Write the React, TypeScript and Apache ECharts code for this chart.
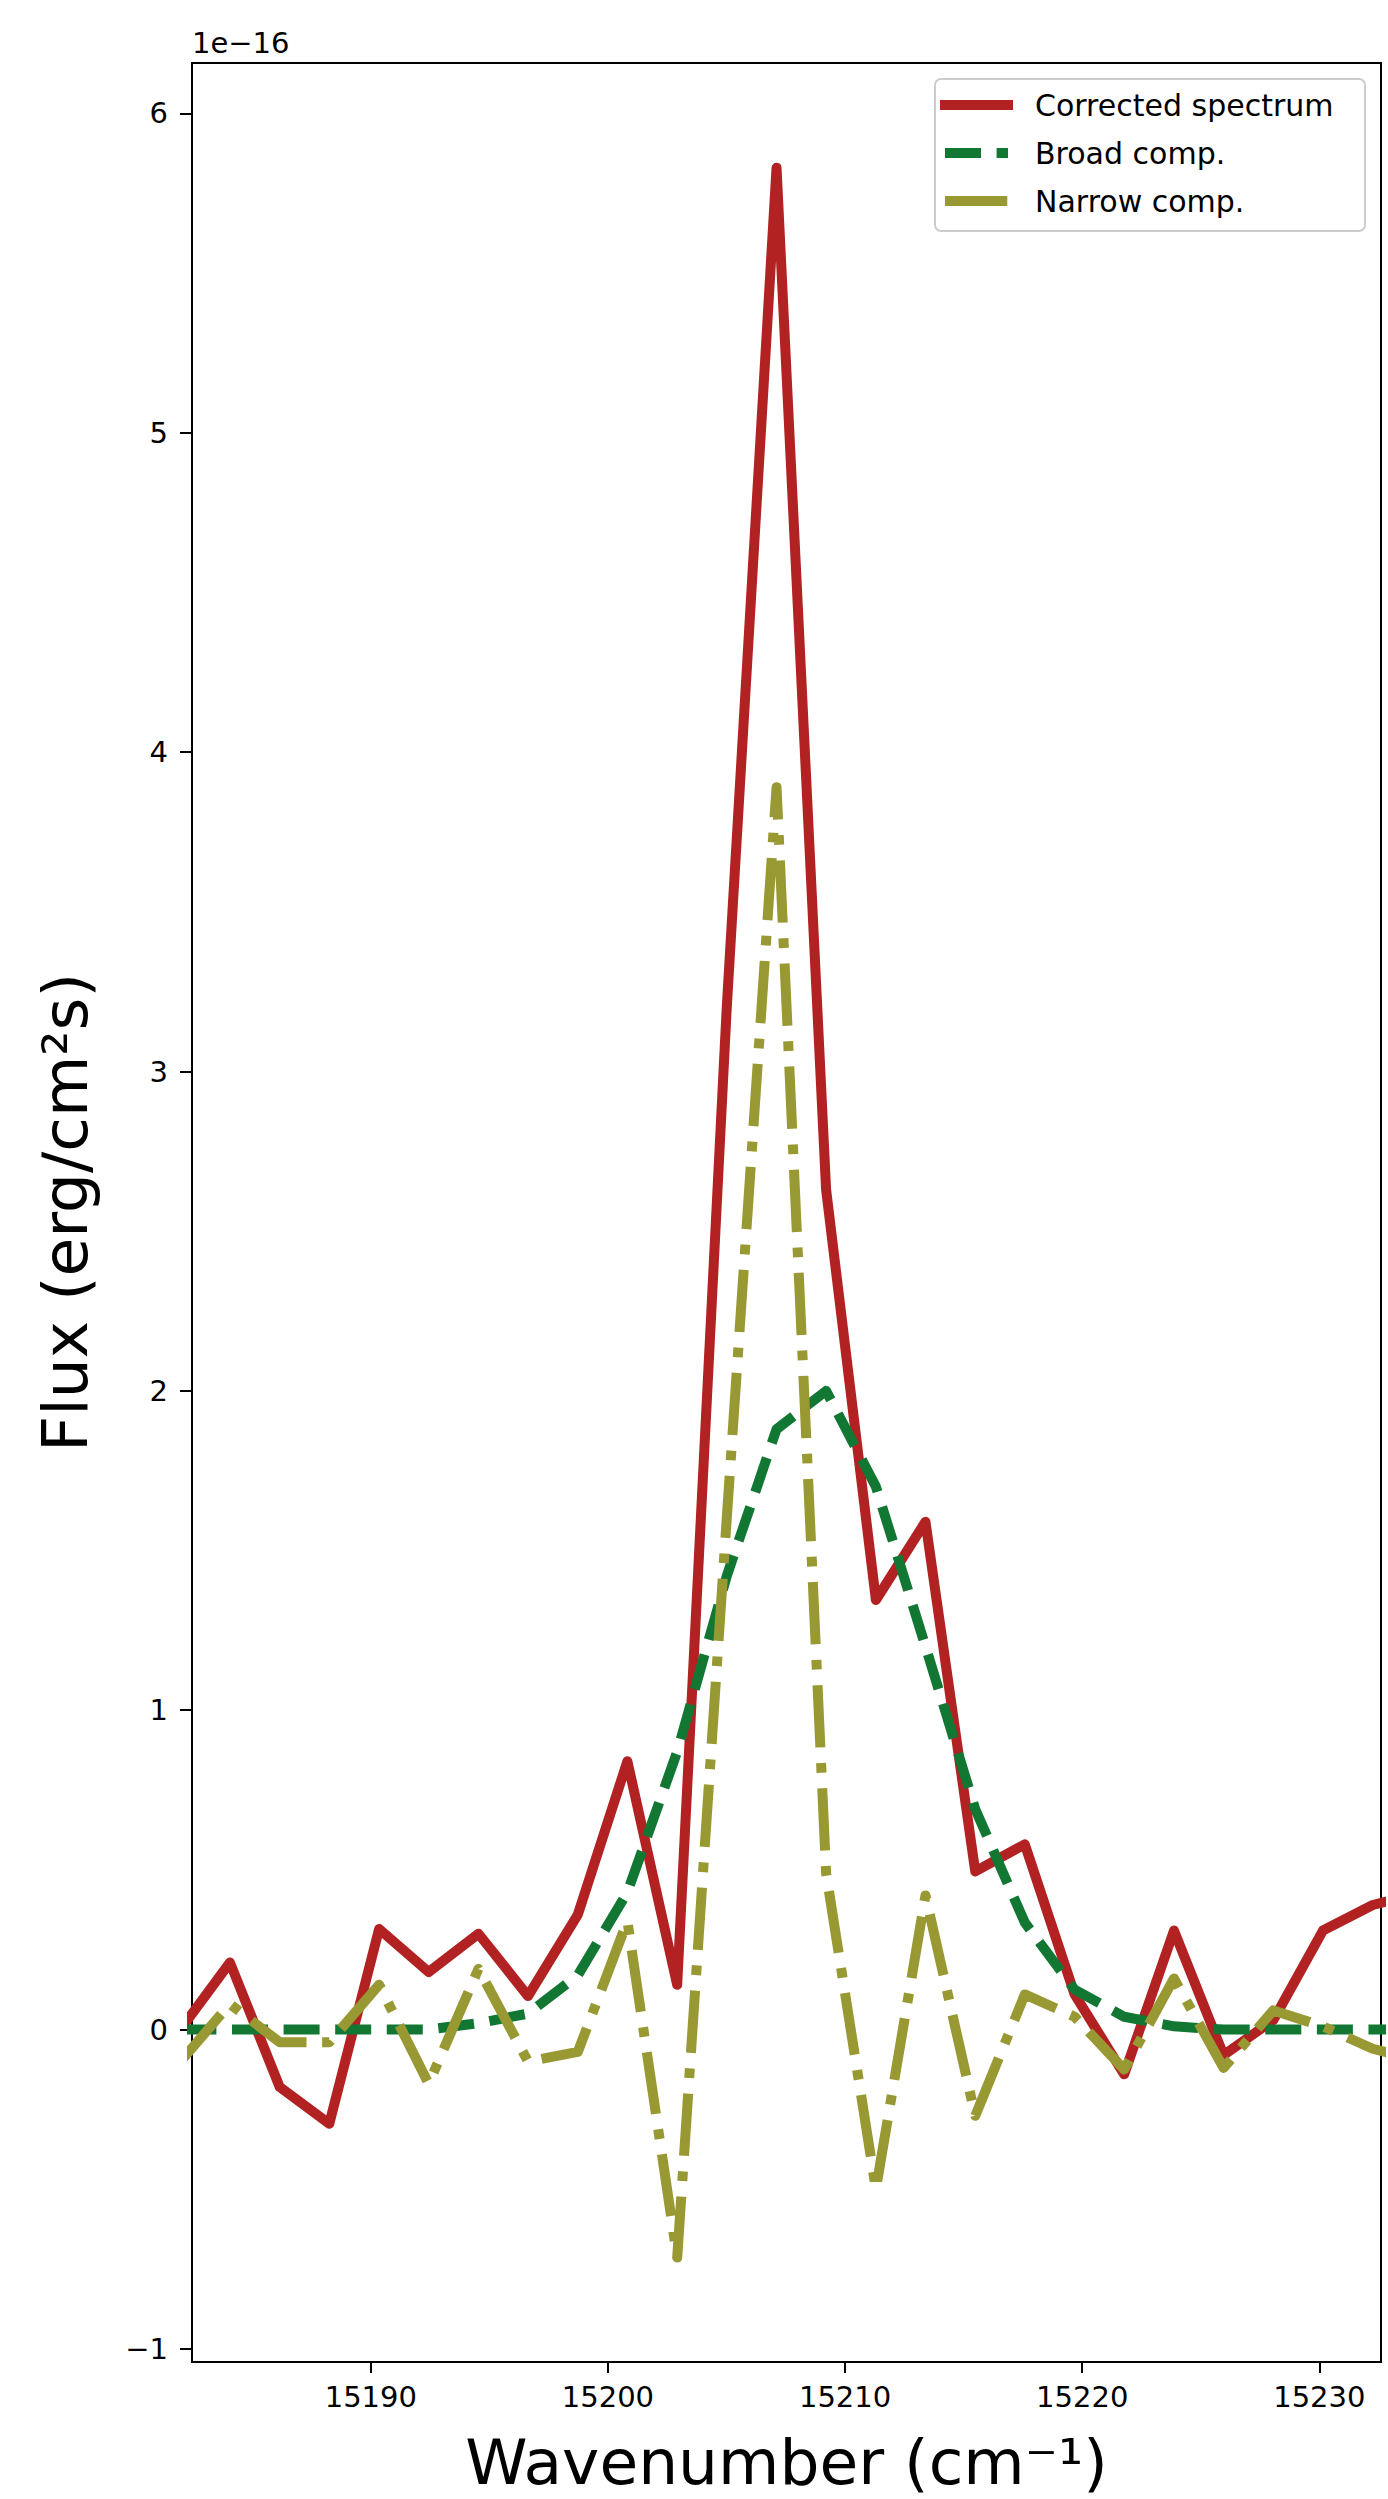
import React, { useEffect, useRef } from "react";
import * as echarts from "echarts";

// Wavenumber grid (cm^-1)
const wavenumber = [
  15181.97, 15184.06, 15186.16, 15188.25, 15190.35, 15192.44, 15194.54, 15196.63,
  15198.73, 15200.82, 15202.92, 15205.01, 15207.11, 15209.2, 15211.3, 15213.39,
  15215.49, 15217.58, 15219.68, 15221.77, 15223.87, 15225.96, 15228.06, 15230.15,
  15232.25, 15234.34,
];

// Flux in units of 1e-16 erg/cm^2 s
const corrected = [
  0.0, 0.21, -0.18, -0.295, 0.315, 0.18, 0.3, 0.105, 0.36, 0.84, 0.14, 3.2,
  5.83, 2.63, 1.345, 1.59, 0.495, 0.58, 0.11, -0.14, 0.31, -0.08, 0.03, 0.31,
  0.39, 0.43,
];

const broad = [
  0, 0, 0, 0, 0, 0, 0.02, 0.05, 0.17, 0.43, 0.87, 1.42, 1.88, 2.0, 1.7, 1.2,
  0.69, 0.335, 0.125, 0.04, 0.01, 0, 0, 0, 0, 0,
];

const narrow = [
  -0.1, 0.08, -0.04, -0.04, 0.14, -0.17, 0.19, -0.1, -0.07, 0.34, -0.714, 1.6,
  3.89, 0.49, -0.5, 0.42, -0.27, 0.11, 0.04, -0.125, 0.16, -0.12, 0.06, 0.01,
  -0.06, -0.1,
];

const xTicks = [15190, 15200, 15210, 15220, 15230];
const yTicks = [-1, 0, 1, 2, 3, 4, 5, 6];

const seriesNames = ["Corrected spectrum", "Broad comp.", "Narrow comp."];
const seriesColors = ["#B22222", "#117733", "#999933"];

const FONT = "DejaVu Sans";

export default function App() {
  const ref = useRef<HTMLDivElement>(null);

  useEffect(() => {
    if (!ref.current) return;
    const chart = echarts.init(ref.current, undefined, { renderer: "svg" });

    const dashed = [36, 15.6];
    const dashDot = [62.3, 15.6, 9.7, 15.6];
    const lineW = 10;

    const mk = (vals: number[]) => wavenumber.map((x, i) => [x, vals[i]]);

    const legendX = 945;
    const legendX2 = 1008;
    const rows = [105, 153, 201];

    const option: any = {
      animation: false,
      backgroundColor: "#ffffff",
      textStyle: { fontFamily: FONT },
      grid: {
        left: 192,
        right: 7,
        top: 63,
        bottom: 135,
        show: true,
        borderColor: "#000",
        borderWidth: 2,
        backgroundColor: "transparent",
      },
      xAxis: {
        type: "value",
        min: 15182.46,
        max: 15232.6,
        name: "Wavenumber (cm⁻¹)",
        nameLocation: "middle",
        nameGap: 69,
        nameTextStyle: { fontSize: 63, color: "#000", fontFamily: FONT },
        axisLine: { show: true, onZero: false, lineStyle: { color: "#000", width: 2 } },
        axisTick: {
          show: true,
          length: 11,
          customValues: xTicks,
          lineStyle: { color: "#000", width: 2 },
        },
        axisLabel: {
          customValues: xTicks,
          fontSize: 29,
          color: "#000",
          margin: 20,
          fontFamily: FONT,
          formatter: (v: number) => String(v),
        },
        splitLine: { show: false },
      },
      yAxis: {
        type: "value",
        min: -1.041,
        max: 6.158,
        name: "Flux (erg/cm²s)",
        nameLocation: "middle",
        nameGap: 95,
        nameTextStyle: { fontSize: 63, color: "#000", fontFamily: FONT },
        axisLine: { show: true, onZero: false, lineStyle: { color: "#000", width: 2 } },
        axisTick: {
          show: true,
          length: 12,
          customValues: yTicks,
          lineStyle: { color: "#000", width: 2 },
        },
        axisLabel: {
          customValues: yTicks,
          fontSize: 29,
          color: "#000",
          margin: 24,
          fontFamily: FONT,
          formatter: (v: number) => (v < 0 ? "−" + Math.abs(v) : String(v)),
        },
        splitLine: { show: false },
      },
      series: [
        {
          name: seriesNames[0],
          type: "line",
          data: mk(corrected),
          symbol: "none",
          clip: true,
          z: 2,
          lineStyle: { color: seriesColors[0], width: lineW, cap: "square", join: "round" },
        },
        {
          name: seriesNames[1],
          type: "line",
          data: mk(broad),
          symbol: "none",
          clip: true,
          z: 3,
          lineStyle: { color: seriesColors[1], width: lineW, type: dashed, cap: "butt", join: "round" },
        },
        {
          name: seriesNames[2],
          type: "line",
          data: mk(narrow),
          symbol: "none",
          clip: true,
          z: 4,
          lineStyle: { color: seriesColors[2], width: lineW, type: dashDot, cap: "butt", join: "round" },
        },
      ],
      graphic: [
        {
          type: "text",
          x: 192,
          y: 43,
          style: {
            text: "1e−16",
            fontSize: 29,
            fontFamily: FONT,
            fill: "#000",
            textAlign: "left",
            textVerticalAlign: "middle",
          },
        },
        {
          type: "rect",
          z: 100,
          shape: { x: 935, y: 79, width: 430, height: 152, r: 6 },
          style: { fill: "rgba(255,255,255,0.8)", stroke: "#cccccc", lineWidth: 2 },
        },
        {
          type: "line",
          z: 101,
          shape: { x1: legendX, y1: rows[0], x2: legendX2, y2: rows[0] },
          style: { stroke: seriesColors[0], lineWidth: lineW, lineCap: "square" },
        },
        {
          type: "line",
          z: 101,
          shape: { x1: legendX, y1: rows[1], x2: legendX2, y2: rows[1] },
          style: { stroke: seriesColors[1], lineWidth: lineW, lineCap: "butt", lineDash: dashed },
        },
        {
          type: "line",
          z: 101,
          shape: { x1: legendX, y1: rows[2], x2: legendX2, y2: rows[2] },
          style: { stroke: seriesColors[2], lineWidth: lineW, lineCap: "butt", lineDash: dashDot },
        },
        ...seriesNames.map((n, i) => ({
          type: "text",
          z: 101,
          x: 1035,
          y: rows[i],
          style: {
            text: n,
            fontSize: 30,
            fontFamily: FONT,
            fill: "#000",
            textAlign: "left",
            textVerticalAlign: "middle",
          },
        })),
      ],
    };

    chart.setOption(option);
    return () => chart.dispose();
  }, []);

  return (
    <div
      ref={ref}
      style={{ position: "absolute", left: 0, top: 0, width: 1388, height: 2499 }}
    />
  );
}
